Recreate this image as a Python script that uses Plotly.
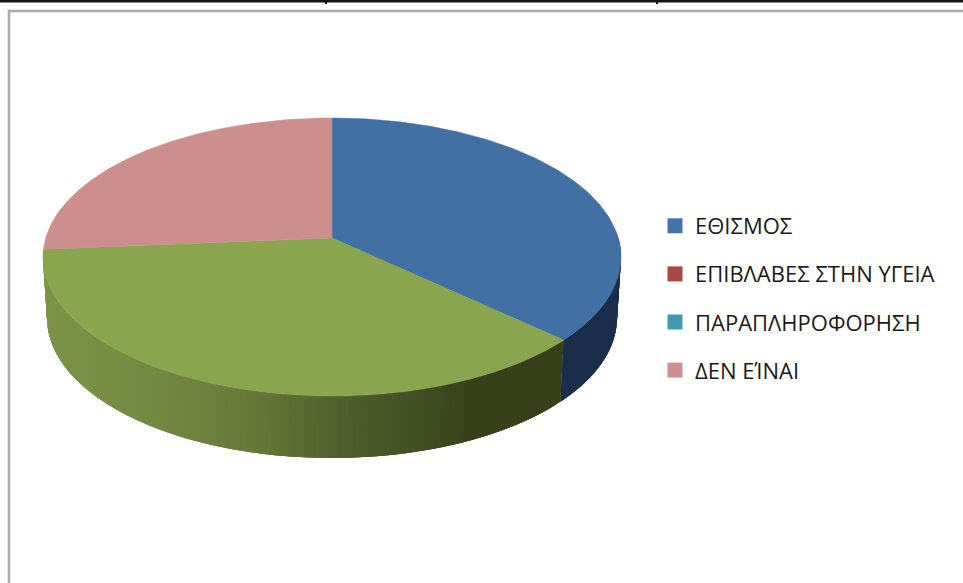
import numpy as np
import plotly.graph_objects as go

# Data
legend_labels = ["ΕΘΙΣΜΟΣ", "ΕΠΙΒΛΑΒΕΣ ΣΤΗΝ ΥΓΕΙΑ", "ΠΑΡΑΠΛΗΡΟΦΟΡΗΣΗ", "ΔΕΝ ΕΊΝΑΙ"]
legend_colors = ["#4572A7", "#AA4643", "#4198AF", "#CC8F8E"]
slice_names = ["ΕΘΙΣΜΟΣ", "", "ΔΕΝ ΕΊΝΑΙ"]
slice_values = [35.2, 40.7, 24.1]
slice_colors = ["#4270A5", "#89A54E", "#CC8F8E"]

# Pie geometry in canvas units
W, H = 963, 583
APEX = (332, 238)
TOP = dict(cx=332, cy=257, rx=289, ry=139)
BOT = dict(cx=332, cy=318, rx=285, ry=140)


def rim(e, deg):
    t = np.radians(deg)
    return e["cx"] + e["rx"] * np.sin(t), e["cy"] - e["ry"] * np.cos(t)


def side_color(slice_index, x):
    if slice_index == 0:
        return "#1A2E4A"
    stops_x = [44, 130, 250, 340, 440, 470, 565]
    stops = [(125, 148, 72), (118, 140, 68), (104, 122, 58), (80, 96, 46),
             (62, 74, 34), (56, 65, 28), (56, 64, 27)]
    rgb = [int(np.interp(x, stops_x, [s[i] for s in stops])) for i in range(3)]
    return f"rgb({rgb[0]},{rgb[1]},{rgb[2]})"


fig = go.Figure()

edges = np.concatenate([[0], np.cumsum(slice_values)]) / sum(slice_values) * 360

# Side wall: overlapping strips between the two rims, so no seams show
for i in (0, 1):
    a0, a1 = max(edges[i], 80), min(edges[i + 1], 280)
    cuts = np.linspace(a0, a1, int((a1 - a0) / 1.0) + 2)
    for c0, c1 in zip(cuts[:-1], cuts[1:]):
        c_end = min(c1 + 2.0, a1)
        tx0, ty0 = rim(TOP, c0)
        tx1, ty1 = rim(TOP, c_end)
        bx0, by0 = rim(BOT, c0)
        bx1, by1 = rim(BOT, c_end)
        col = side_color(i, (tx0 + rim(TOP, c1)[0]) / 2)
        fig.add_trace(go.Scatter(
            x=[tx0, tx1, bx1, bx0, tx0], y=[ty0, ty1, by1, by0, ty0],
            mode="lines", fill="toself", fillcolor=col,
            line=dict(color=col, width=0),
            hoverinfo="skip", showlegend=False))

# Top face
for i, name in enumerate(slice_names):
    angs = np.linspace(edges[i], edges[i + 1], 160)
    rx, ry = rim(TOP, angs)
    fig.add_trace(go.Scatter(
        x=np.concatenate([[APEX[0]], rx, [APEX[0]]]),
        y=np.concatenate([[APEX[1]], ry, [APEX[1]]]),
        mode="lines", fill="toself", fillcolor=slice_colors[i],
        line=dict(color=slice_colors[i], width=0.5),
        name=name, hoverinfo="skip", showlegend=False))

# Legend entries
for label, color in zip(legend_labels, legend_colors):
    fig.add_trace(go.Scatter(
        x=[None], y=[None], mode="markers", name=label, legendgroup=label,
        marker=dict(symbol="square", size=15, color=color)))

grey = "#ABABAB"
shapes = [
    dict(type="rect", x0=0, x1=W, y0=0, y1=2.5, fillcolor="#111111", line_width=0),
    dict(type="rect", x0=325, x1=327, y0=0, y1=4, fillcolor="#111111", line_width=0),
    dict(type="rect", x0=656, x1=658, y0=0, y1=4, fillcolor="#111111", line_width=0),
    dict(type="rect", x0=8, x1=W, y0=9.7, y1=12.3, fillcolor=grey, line_width=0),
    dict(type="rect", x0=7.7, x1=10.3, y0=9.7, y1=H, fillcolor=grey, line_width=0),
]

fig.update_layout(
    width=W, height=H,
    margin=dict(l=0, r=0, t=0, b=0),
    paper_bgcolor="white", plot_bgcolor="white",
    xaxis=dict(range=[0, W], visible=False, fixedrange=True),
    yaxis=dict(range=[H, 0], visible=False, fixedrange=True),
    shapes=shapes,
    legend=dict(x=655 / W, y=1 - 205 / H, xanchor="left", yanchor="top",
                bgcolor="rgba(0,0,0,0)", tracegroupgap=16.5,
                font=dict(family="Open Sans", size=22, color="#1a1a1a")),
)
fig.write_html("out.html", config=dict(displayModeBar=False),
               post_script="document.documentElement.style.overflow='hidden';"
                           "document.body.style.margin='0';"
                           "document.body.style.overflow='hidden';")
